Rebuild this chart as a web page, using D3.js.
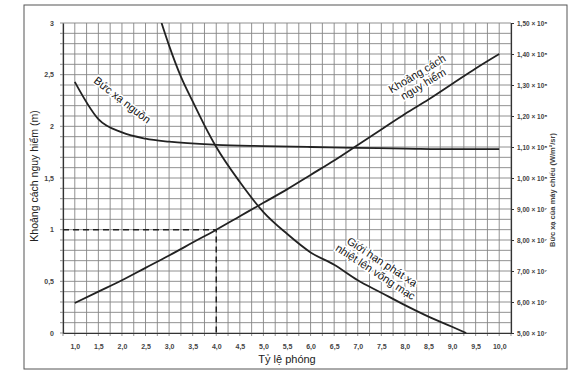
<!DOCTYPE html>
<html>
<head>
<meta charset="utf-8">
<script src="https://cdn.jsdelivr.net/npm/d3@7"></script>
<style>
  body { margin: 0; background: #fff; }
  svg { display: block; font-family: "Liberation Sans", Arial, sans-serif; }
</style>
</head>
<body>
<svg></svg>
<script>
// throw ratio on the x axis
const xTicks = [1, 1.5, 2, 2.5, 3, 3.5, 4, 4.5, 5, 5.5, 6, 6.5, 7, 7.5, 8, 8.5, 9, 9.5, 10];
const leftTicks = [0, 0.5, 1, 1.5, 2, 2.5, 3];
const rightTicks = [5e7, 6e7, 7e7, 8e7, 9e7, 1e8, 1.1e8, 1.2e8, 1.3e8, 1.4e8, 1.5e8];

// hazard distance (m), left axis
const distX = [1, 1.5, 2, 2.5, 3, 3.5, 4, 4.5, 5, 5.5, 6, 6.5, 7, 7.5, 8, 8.5, 9, 9.5, 10];
const distY = [0.29, 0.40, 0.51, 0.63, 0.75, 0.875, 1.0, 1.13, 1.26, 1.39, 1.53, 1.67, 1.82, 1.97, 2.12, 2.26, 2.41, 2.56, 2.70];

// source radiance (W/m2sr), right axis
const srcX = [1, 1.5, 2, 2.5, 3, 4, 5, 6, 7, 8, 9, 10];
const srcY = [1.31e8, 1.19e8, 1.147e8, 1.127e8, 1.117e8, 1.107e8, 1.103e8, 1.10e8, 1.097e8, 1.095e8, 1.093e8, 1.093e8];

// retinal thermal limit (W/m2sr), right axis
const limX = [2.84, 3, 3.25, 3.5, 3.75, 4, 4.5, 5, 5.5, 6, 6.5, 7, 7.5, 8, 8.5, 9, 9.3];
const limY = [1.50e8, 1.427e8, 1.327e8, 1.247e8, 1.17e8, 1.10e8, 9.87e7, 8.9e7, 8.2e7, 7.6e7, 7.2e7, 6.7e7, 6.3e7, 5.9e7, 5.53e7, 5.2e7, 5.0e7];

const svg = d3.select("svg").attr("width", 576).attr("height", 378);

const x = d3.scaleLinear().domain([0.75, 10.25]).range([63, 511]);
const y = d3.scaleLinear().domain([0, 3]).range([333, 23]);
const yR = d3.scaleLinear().domain([5e7, 1.5e8]).range([333, 23]);

// outer frame
svg.append("rect")
  .attr("x", 24).attr("y", 5)
  .attr("width", 543).attr("height", 364)
  .attr("fill", "none")
  .attr("stroke", "#555")
  .attr("stroke-width", 1);

// grid
const grid = svg.append("g").attr("stroke", "#858585").attr("stroke-width", 0.9);
grid.selectAll(".vg")
  .data(d3.range(0.75, 10.26, 0.25))
  .join("line")
  .attr("x1", d => x(d)).attr("x2", d => x(d))
  .attr("y1", y(3)).attr("y2", y(0) + 3);
grid.selectAll(".hg")
  .data(d3.range(0, 3.001, 0.1))
  .join("line")
  .attr("y1", d => y(d)).attr("y2", d => y(d))
  .attr("x1", x(0.75) - 3).attr("x2", x(10.25));

// axes
const comma = s => s.replace(".", ",");

svg.append("g")
  .attr("transform", `translate(0,${y(0)})`)
  .call(d3.axisBottom(x).tickValues(xTicks).tickSize(0).tickPadding(11)
    .tickFormat(d => comma(d3.format(".1f")(d))))
  .call(g => g.select(".domain").attr("stroke", "#333").attr("stroke-width", 1.2))
  .selectAll("text")
  .style("font-size", "7px").style("font-weight", "bold").attr("fill", "#444");

svg.append("g")
  .attr("transform", `translate(${x(0.75)},0)`)
  .call(d3.axisLeft(y).tickValues(leftTicks).tickSize(0).tickPadding(9)
    .tickFormat(d => comma(String(d))))
  .call(g => g.select(".domain").attr("stroke", "#333").attr("stroke-width", 1.2))
  .selectAll("text")
  .style("font-size", "7px").style("font-weight", "bold").attr("fill", "#444");

const sup = { 7: "⁷", 8: "⁸" };
svg.append("g")
  .attr("transform", `translate(${x(10.25)},0)`)
  .call(d3.axisRight(yR).tickValues(rightTicks).tickSize(3).tickPadding(3)
    .tickFormat(d => {
      const e = d >= 1e8 ? 8 : 7;
      return comma((d / Math.pow(10, e)).toFixed(2)) + " × 10" + sup[e];
    }))
  .call(g => g.select(".domain").attr("stroke", "#333").attr("stroke-width", 1.2))
  .call(g => g.selectAll(".tick line").attr("stroke", "#333"))
  .selectAll("text")
  .style("font-size", "6.5px").style("font-weight", "bold").attr("fill", "#444");

// dashed guide at throw ratio 4 / distance 1 m
svg.append("path")
  .attr("d", d3.line()([[x(0.75), y(1)], [x(4), y(1)], [x(4), y(0)]]))
  .attr("fill", "none")
  .attr("stroke", "#222")
  .attr("stroke-width", 1.5)
  .attr("stroke-dasharray", "6,4");

// curves
svg.append("clipPath").attr("id", "plot")
  .append("rect")
  .attr("x", x(0.75)).attr("y", y(3))
  .attr("width", x(10.25) - x(0.75)).attr("height", y(0) - y(3));

const curves = svg.append("g").attr("clip-path", "url(#plot)");

curves.append("path")
  .datum(distX.map((d, i) => [d, distY[i]]))
  .attr("d", d3.line().x(d => x(d[0])).y(d => y(d[1])).curve(d3.curveMonotoneX))
  .attr("fill", "none").attr("stroke", "#222").attr("stroke-width", 1.8);

curves.append("path")
  .datum(srcX.map((d, i) => [d, srcY[i]]))
  .attr("d", d3.line().x(d => x(d[0])).y(d => yR(d[1])).curve(d3.curveMonotoneX))
  .attr("fill", "none").attr("stroke", "#222").attr("stroke-width", 1.8);

curves.append("path")
  .datum(limX.map((d, i) => [d, limY[i]]))
  .attr("d", d3.line().x(d => x(d[0])).y(d => yR(d[1])).curve(d3.curveMonotoneX))
  .attr("fill", "none").attr("stroke", "#222").attr("stroke-width", 1.8);

// curve labels
function label(lines, cx, cy, angle) {
  const t = svg.append("text")
    .attr("transform", `translate(${cx},${cy}) rotate(${angle})`)
    .attr("text-anchor", "middle")
    .style("font-size", "11px")
    .attr("fill", "#151515")
    .attr("stroke", "#fff")
    .attr("stroke-width", 3)
    .attr("paint-order", "stroke");
  lines.forEach((s, i) => {
    t.append("tspan").attr("x", 0).attr("dy", i === 0 ? 0 : 12).text(s);
  });
}
label(["Bức xạ nguồn"], 120, 103, 38);
label(["Khoảng cách", "nguy hiểm"], 419, 77, -31);
label(["Giới hạn phát xạ", "nhiệt lên võng mạc"], 380, 265, 33);

// axis titles
svg.append("text")
  .attr("x", 287).attr("y", 363)
  .attr("text-anchor", "middle")
  .style("font-size", "11px").attr("fill", "#222")
  .text("Tỷ lệ phóng");

svg.append("text")
  .attr("transform", "translate(38,176) rotate(-90)")
  .attr("text-anchor", "middle")
  .style("font-size", "10.5px").attr("fill", "#222")
  .text("Khoảng cách nguy hiểm (m)");

svg.append("text")
  .attr("transform", "translate(555,190) rotate(-90)")
  .attr("text-anchor", "middle")
  .style("font-size", "7.5px").style("font-weight", "bold").attr("fill", "#444")
  .text("Bức xạ của máy chiếu (W/m²/sr)");
</script>
</body>
</html>
